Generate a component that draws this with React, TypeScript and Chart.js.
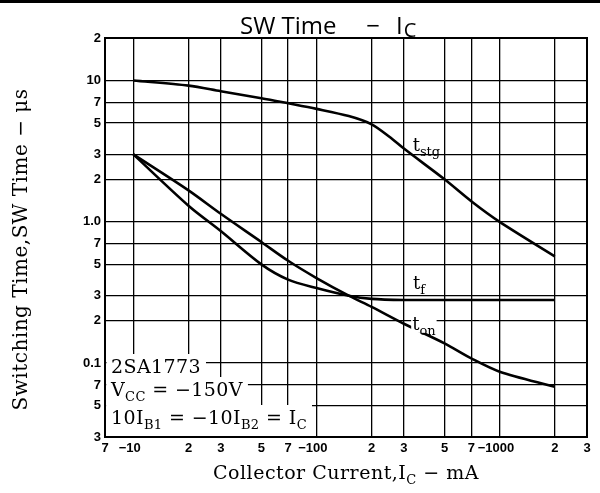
import { useEffect, useRef } from 'react';
import { Chart, registerables } from 'chart.js';

Chart.register(...registerables);

// ---- axis ticks ----
const xTickValues = [7, 10, 20, 30, 50, 70, 100, 200, 300, 500, 700, 1000, 2000, 3000];
const xTickLabels = ['7', '−10\u2007', '2', '3', '5', '7', '−100\u2007', '2', '3', '5', '7', '−1000\u2007', '2', '3'];
const yTickValues = [0.03, 0.05, 0.07, 0.1, 0.2, 0.3, 0.5, 0.7, 1, 2, 3, 5, 7, 10, 20];
const yTickLabels = ['3', '5', '7', '0.1', '2', '3', '5', '7', '1.0', '2', '3', '5', '7', '10', '2'];

// ---- series (Collector current mA, switching time µs) ----
const tstgCurrent = [10, 20, 30, 50, 70, 100, 150, 200, 250, 300, 500, 700, 1000, 2000];
const tstgTime = [10, 9.2, 8.4, 7.5, 6.9, 6.3, 5.6, 4.9, 4.0, 3.3, 2.0, 1.4, 1.0, 0.57];
const tonCurrent = [10, 20, 30, 50, 70, 100, 150, 200, 300, 500, 700, 1000, 2000];
const tonTime = [3, 1.67, 1.14, 0.72, 0.53, 0.4, 0.3, 0.25, 0.19, 0.138, 0.108, 0.087, 0.068];
const tfCurrent = [10, 20, 30, 50, 70, 100, 150, 200, 300, 500, 1000, 2000];
const tfTime = [3, 1.3, 0.86, 0.5, 0.39, 0.34, 0.3, 0.285, 0.28, 0.28, 0.28, 0.28];

const SERIF = "'DejaVu Serif', serif";
const SANS = "'Liberation Sans', Arial, sans-serif";

type Part = { t: string; sub?: boolean };

function drawParts(ctx: CanvasRenderingContext2D, x: number, y: number, parts: Part[], size: number, family: string, draw = true) {
  let cx = x;
  for (const p of parts) {
    const s = p.sub ? Math.round(size * 0.7) : size;
    ctx.font = `${s}px ${family}`;
    const w = ctx.measureText(p.t).width;
    if (draw) ctx.fillText(p.t, cx, y + (p.sub ? size * 0.28 : 0));
    cx += w;
  }
  return cx - x;
}

const decorPlugin = {
  id: 'decor',
  beforeDatasetsDraw(chart: any) {
    const { ctx, chartArea: a } = chart;
    ctx.save();
    ctx.strokeStyle = '#000';
    ctx.lineWidth = 2;
    ctx.strokeRect(a.left, a.top, a.right - a.left, a.bottom - a.top);
    ctx.restore();
  },
  afterDatasetsDraw(chart: any) {
    const { ctx, chartArea: a, scales } = chart;
    const xs = scales.x;
    const ys = scales.y;
    ctx.save();
    ctx.textAlign = 'left';
    ctx.textBaseline = 'alphabetic';

    // condition box (bottom-left)
    const rows: Part[][] = [
      [{ t: '2SA1773' }],
      [{ t: 'V' }, { t: 'CC', sub: true }, { t: ' = −150V' }],
      [{ t: '10I' }, { t: 'B1', sub: true }, { t: ' = −10I' }, { t: 'B2', sub: true }, { t: ' = I' }, { t: 'C', sub: true }],
    ];
    const offs = [64, 41, 13];
    const tx = a.left + 6;
    const size = 19;
    (ctx as any).letterSpacing = '0.4px';
    ctx.fillStyle = '#fff';
    rows.forEach((r, i) => {
      const w = drawParts(ctx, tx, 0, r, size, SERIF, false);
      const base = a.bottom - offs[i];
      ctx.fillRect(a.left + 1.5, base - 19, tx + w + 5 - (a.left + 1.5), a.bottom - 1 - (base - 19));
    });
    ctx.fillStyle = '#000';
    rows.forEach((r, i) => {
      drawParts(ctx, tx, a.bottom - offs[i], r, size, SERIF, true);
    });
    (ctx as any).letterSpacing = '0px';

    // curve labels
    const labels: { x: number; y: number; parts: Part[]; bg: boolean }[] = [
      { x: 335, y: 3.15, parts: [{ t: 't' }, { t: 'stg', sub: true }], bg: false },
      { x: 337, y: 0.334, parts: [{ t: 't' }, { t: 'f', sub: true }], bg: true },
      { x: 333, y: 0.172, parts: [{ t: 't' }, { t: 'on', sub: true }], bg: true },
    ];
    for (const l of labels) {
      const px = xs.getPixelForValue(l.x);
      const py = ys.getPixelForValue(l.y);
      const w = drawParts(ctx, px, py, l.parts, 18, SERIF, false);
      if (l.bg) {
        ctx.fillStyle = '#fff';
        ctx.fillRect(px - 1, py - 13, w + 2, 16);
      }
      ctx.fillStyle = '#000';
      drawParts(ctx, px, py, l.parts, 18, SERIF, true);
    }
    ctx.restore();
  },
  afterDraw(chart: any) {
    const { ctx, chartArea: a, width } = chart;
    ctx.save();
    ctx.fillStyle = '#000';
    // scanned page rule at top
    ctx.fillRect(0, 0, width, 3);

    const cx = (a.left + a.right) / 2;
    // title
    ctx.textBaseline = 'alphabetic';
    ctx.textAlign = 'left';
    const tf = "'Open Sans', 'Noto Sans', sans-serif";
    ctx.font = `24px ${tf}`;
    ctx.fillText('SW Time', cx - 106, 34);
    ctx.textAlign = 'center';
    ctx.fillText('−', cx + 27, 34);
    ctx.textAlign = 'left';
    ctx.fillText('I', cx + 50, 34);
    const iw = ctx.measureText('I').width;
    ctx.font = `20px ${tf}`;
    ctx.fillText('C', cx + 50 + iw + 1, 37);

    // x title
    (ctx as any).letterSpacing = '0.5px';
    const xParts: Part[] = [{ t: 'Collector Current,I' }, { t: 'C', sub: true }, { t: ' − mA' }];
    const xw = drawParts(ctx, 0, 0, xParts, 19, SERIF, false);
    drawParts(ctx, cx - xw / 2, 479, xParts, 19, SERIF, true);

    // y title
    ctx.translate(22, (a.top + a.bottom) / 2 + 12);
    ctx.rotate(-Math.PI / 2);
    ctx.textAlign = 'center';
    ctx.textBaseline = 'middle';
    ctx.font = `20px ${SERIF}`;
    (ctx as any).letterSpacing = '0.5px';
    ctx.fillText('Switching Time,SW Time − μs', 0, 0);
    ctx.restore();
  },
};

export default function App() {
  const ref = useRef<HTMLCanvasElement>(null);
  useEffect(() => {
    const chart = new Chart(ref.current as HTMLCanvasElement, {
      type: 'line',
      data: {
        datasets: [
          { label: 'tstg', data: tstgCurrent.map((x, i) => ({ x, y: tstgTime[i] })) },
          { label: 'tf', data: tfCurrent.map((x, i) => ({ x, y: tfTime[i] })) },
          { label: 'ton', data: tonCurrent.map((x, i) => ({ x, y: tonTime[i] })) },
        ].map((d) => ({
          ...d,
          borderColor: '#000',
          borderWidth: 2.6,
          pointRadius: 0,
          fill: false,
          tension: 0.3,
        })),
      },
      options: {
        animation: false,
        responsive: false,
        devicePixelRatio: 1,
        layout: { padding: { left: 0, right: 13, top: 38, bottom: 0 } },
        plugins: { legend: { display: false }, tooltip: { enabled: false }, title: { display: false } },
        scales: {
          x: {
            type: 'logarithmic',
            min: 7,
            max: 3000,
            afterBuildTicks: (axis: any) => {
              axis.ticks = xTickValues.map((v) => ({ value: v }));
            },
            afterFit: (s: any) => {
              s.height = 56;
            },
            ticks: {
              autoSkip: false,
              maxRotation: 0,
              minRotation: 0,
              padding: 4,
              color: '#000',
              font: { family: SANS, size: 13, weight: 'bold' },
              callback: (v: any) => xTickLabels[xTickValues.indexOf(Number(v))] ?? '',
            },
            grid: { color: '#000', lineWidth: 1.3, drawTicks: false },
            border: { color: '#000', width: 2 },
          },
          y: {
            type: 'logarithmic',
            min: 0.03,
            max: 20,
            afterBuildTicks: (axis: any) => {
              axis.ticks = yTickValues.map((v) => ({ value: v }));
            },
            afterFit: (s: any) => {
              s.width = 105;
            },
            ticks: {
              autoSkip: false,
              padding: 4,
              color: '#000',
              font: { family: SANS, size: 13, weight: 'bold' },
              callback: (v: any) => yTickLabels[yTickValues.indexOf(Number(v))] ?? '',
            },
            grid: { color: '#000', lineWidth: 1.3, drawTicks: false },
            border: { color: '#000', width: 2 },
          },
        },
      },
      plugins: [decorPlugin],
    } as any);
    return () => chart.destroy();
  }, []);
  return (
    <div style={{ position: 'absolute', left: 0, top: 0, width: 600, height: 493, background: '#fff' }}>
      <canvas ref={ref} width={600} height={493} style={{ width: 600, height: 493, display: 'block' }} />
    </div>
  );
}
